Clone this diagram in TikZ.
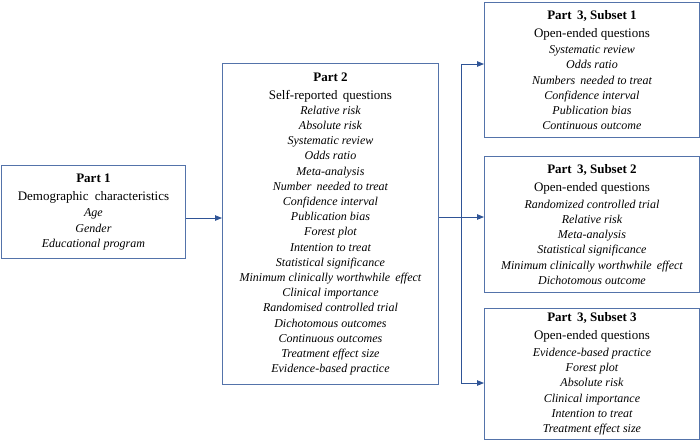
\documentclass[tikz,border=0pt]{standalone}
\usepackage{fontspec}
\setmainfont{Liberation Serif}
\usetikzlibrary{arrows.meta}
\definecolor{boxc}{RGB}{84,115,170}
\definecolor{arrc}{RGB}{47,84,150}
\begin{document}
\begin{tikzpicture}[x=1pt,y=-1pt,
  box/.style={draw=boxc,line width=0.9pt,rectangle,inner sep=0pt,align=center,anchor=north west,
    font=\fontsize{12}{15.2}\selectfont\itshape},
  arr/.style={draw=arrc,line width=0.9pt,-{Triangle[length=7pt,width=5.5pt]}},
  ln/.style={draw=arrc,line width=0.9pt}]
\useasboundingbox (0,0) rectangle (700,440);
\newcommand\parthead[1]{{\upshape\bfseries\fontsize{13}{15.2}\selectfont #1}}
\newcommand\subhead[1]{{\upshape\fontsize{13}{15.2}\selectfont #1}}

\node[box,minimum width=184,minimum height=93] (p1) at (1,165) {%
  \parthead{Part 1}\\[2.8pt]
  \subhead{Demographic\hspace{3pt} characteristics}\\[1pt]
  Age\\ Gender\\ Educational program};

\node[box,minimum width=216,minimum height=321] (p2) at (222,63) {%
  \parthead{Part 2}\\[2.8pt]
  \subhead{Self-reported\hspace{2pt} questions}\\
  Relative risk\\ Absolute risk\\ Systematic review\\ Odds ratio\\ Meta-analysis\\
  Number\hspace{2pt} needed to treat\\ Confidence interval\\ Publication bias\\ Forest plot\\
  Intention to treat\\ Statistical significance\\ Minimum clinically worthwhile\hspace{2pt} effect\\
  Clinical importance\\ Randomised controlled trial\\ Dichotomous outcomes\\
  Continuous outcomes\\ Treatment effect size\\ Evidence-based practice};

\node[box,minimum width=215,minimum height=135] (s1) at (484,2) {%
  \parthead{Part\hspace{2pt} 3, Subset 1}\\[2.8pt]
  \subhead{Open-ended questions}\\[1.5pt]
  Systematic review\\ Odds ratio\\ Numbers\hspace{2pt} needed to treat\\ Confidence interval\\
  Publication bias\\ Continuous outcome};

\node[box,minimum width=215,minimum height=136] (s2) at (484,156) {%
  \parthead{Part\hspace{2pt} 3, Subset 2}\\[2.8pt]
  \subhead{Open-ended questions}\\[1.5pt]
  Randomized controlled trial\\ Relative risk\\ Meta-analysis\\ Statistical significance\\
  Minimum clinically worthwhile\hspace{2pt} effect\\ Dichotomous outcome};

\node[box,minimum width=215,minimum height=131] (s3) at (484,308) {%
  \parthead{Part\hspace{2pt} 3, Subset 3}\\[2.8pt]
  \subhead{Open-ended questions}\\[1.5pt]
  Evidence-based practice\\ Forest plot\\ Absolute risk\\ Clinical importance\\
  Intention to treat\\ Treatment effect size};

\coordinate (a1) at (200,218);
\draw[arr] (p1.east |- a1) -- (p2.west |- a1);

\coordinate (j) at (461,217);
\coordinate (j1) at (461,64);
\coordinate (j3) at (461,383);
\draw[ln] (p2.east |- j) -- (j);
\draw[arr] (j) -- (s2.west |- j);
\draw[arr] (j) -- (j1) -- (s1.west |- j1);
\draw[arr] (j) -- (j3) -- (s3.west |- j3);
\end{tikzpicture}
\end{document}
